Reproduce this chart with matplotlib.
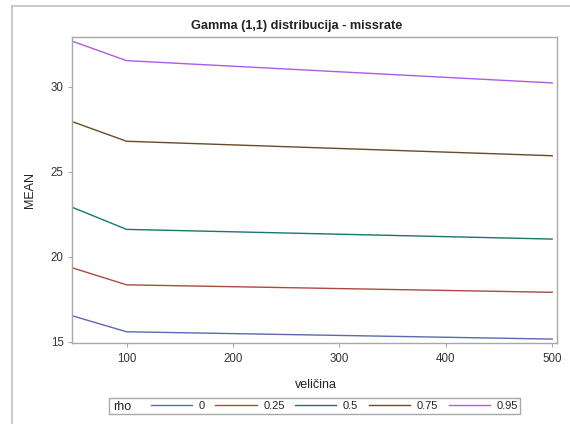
import matplotlib
matplotlib.use("Agg")
import matplotlib.pyplot as plt
from matplotlib.lines import Line2D
from matplotlib.patches import Rectangle

plt.rcParams['font.family'] = ['Liberation Sans', 'DejaVu Sans']

# data
velicina = [50, 100, 500]
rho_labels = ['0', '0.25', '0.5', '0.75', '0.95']
mean_rho_0 = [16.51, 15.59, 15.16]
mean_rho_025 = [19.33, 18.35, 17.91]
mean_rho_05 = [22.88, 21.61, 21.04]
mean_rho_075 = [27.92, 26.79, 25.94]
mean_rho_095 = [32.65, 31.53, 30.22]

series = [mean_rho_0, mean_rho_025, mean_rho_05, mean_rho_075, mean_rho_095]
colors = ['#5a6aae', '#ad4a40', '#17766d', '#6a4a28', '#ad5ce6']

GRAY = '#a8a8a8'
TXT = '#333333'

W, H = 570, 424
fig = plt.figure(figsize=(W / 100, H / 100), dpi=100)
ax = fig.add_axes([72 / W, 1 - 343 / H, (557 - 72) / W, (343 - 37) / H])

lines = []
for vals, col, lab in zip(series, colors, rho_labels):
    ln, = ax.plot(velicina, vals, color=col, lw=1.0, label=lab)
    lines.append(ln)

ax.set_xlim(48.7, 504.5)
ax.set_ylim(14.93, 32.92)
ax.set_xticks([100, 200, 300, 400, 500])
ax.set_yticks([15, 20, 25, 30])

for sp in ax.spines.values():
    sp.set_color(GRAY)
    sp.set_linewidth(1.0)
ax.tick_params(axis='both', colors=GRAY, labelcolor=TXT, labelsize=8.3,
               length=3.2, width=0.8)
ax.tick_params(axis='x', pad=4.2)
ax.tick_params(axis='y', pad=2.8)

# axis labels and title placed in pixel positions of the original
fig.text(316 / W, 1 - 388 / H, 'veličina', fontsize=9, color='#222222',
         ha='center', va='baseline')
fig.text(30 / W, 1 - 190 / H, 'MEAN', fontsize=9, color='#222222',
         ha='center', va='center', rotation=90)
fig.text(297 / W, 1 - 29 / H, 'Gamma (1,1) distribucija - missrate',
         fontsize=9.2, fontweight='bold', color='#222222',
         ha='center', va='baseline')

# outer frame (partially cut like the original export)
fig.add_artist(Line2D([12 / W, 12 / W], [0, 1 - 6 / H], color='#c0c0c0', lw=1.2))
fig.add_artist(Line2D([12 / W, 1], [1 - 6 / H, 1 - 6 / H], color='#c0c0c0', lw=1.2))

# legend box at bottom
fig.add_artist(Rectangle((109.5 / W, 1 - 413.5 / H), 410 / W, 15.5 / H,
                         transform=fig.transFigure, fill=False,
                         edgecolor=GRAY, lw=1.0))
fig.text(113 / W, 1 - 410 / H, 'rho', fontsize=9, color='#222222',
         va='baseline', ha='left')
fig.legend(handles=lines, labels=rho_labels, ncol=5, frameon=False,
           loc='center left', bbox_to_anchor=(151 / W, 1 - 405.7 / H),
           borderaxespad=0, borderpad=0, fontsize=8, handlelength=3.7,
           handletextpad=0.6, columnspacing=0.95, labelcolor='#222222')

fig.savefig('out.png', dpi=100)
